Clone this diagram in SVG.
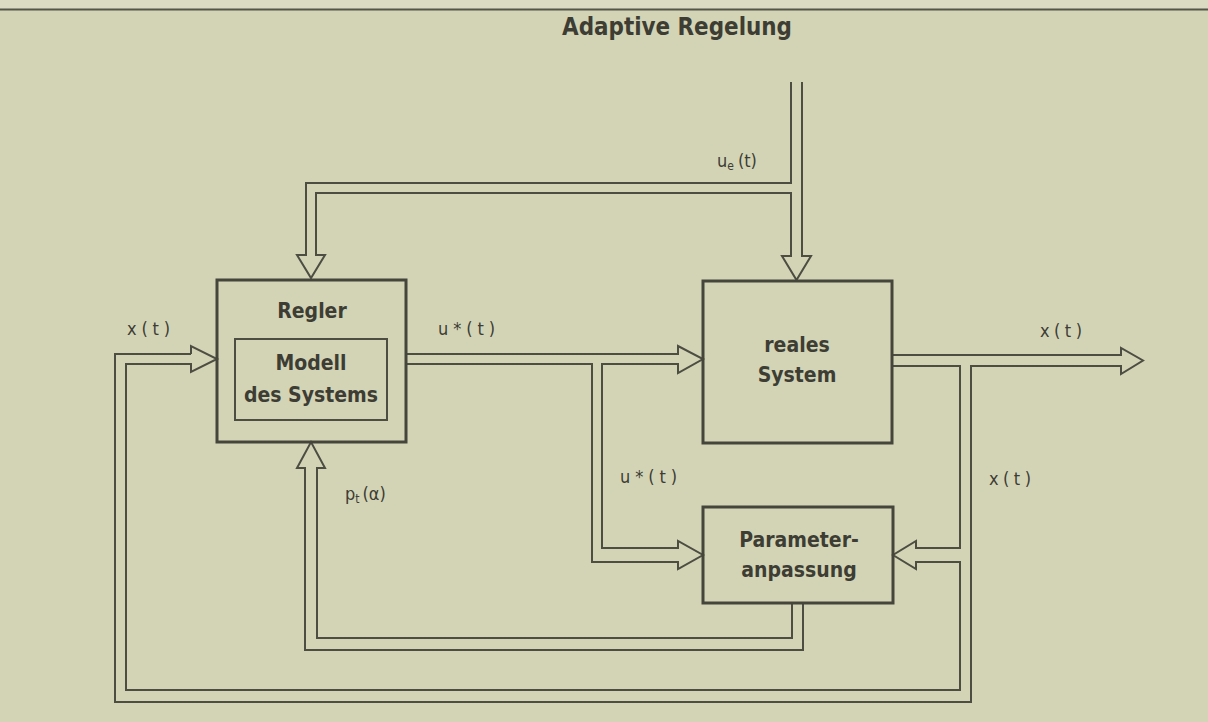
<svg xmlns="http://www.w3.org/2000/svg" width="1208" height="722" viewBox="0 0 1208 722">
<style>
.bg{fill:#d3d4b6}
.w{fill:none;stroke:#4d4d42;stroke-width:2;stroke-linejoin:miter}
.box{fill:none;stroke:#45453b;stroke-width:3}
.inner{fill:none;stroke:#4d4d42;stroke-width:2}
text{font-family:"Liberation Sans Narrow","DejaVu Sans Condensed","Liberation Sans",sans-serif;fill:#3d3d34}
.t{font-size:24px;font-weight:bold}
.n{font-size:21px;font-weight:bold}
.l{font-size:18px}
</style>
<rect class="bg" x="0" y="0" width="1208" height="722"/>
<rect x="0" y="0" width="1208" height="9" fill="#dadbc2"/>
<line x1="0" y1="9.5" x2="1208" y2="9.5" stroke="#55554a" stroke-width="2"/>
<text class="t" x="562" y="35" textLength="230" lengthAdjust="spacingAndGlyphs">Adaptive Regelung</text>

<g id="connectors">
<path class="w" d="M791,82 L791,183 L306,183 L306,255 L297,255 L311,278 L325,255 L316,255 L316,193 L791,193 L791,256 L782,256 L796.5,280 L811,256 L802,256 L802,82"/>
<path class="w" d="M191,354 L115,354 L115,702 L971,702 L971,366 L1121,366 L1121,374 L1143,360.5 L1121,348 L1121,355 L892,355"/>
<path class="w" d="M892,366 L960,366 L960,548 L916,548 L916,541 L893,555 L916,569 L916,562 L960,562 L960,690 L126,690 L126,364 L191,364 L191,372 L217,359 L191,346 L191,354"/>
<path class="w" d="M406,354 L678,354 L678,346 L703,359 L678,373 L678,364 L602,364 L602,548 L678,548 L678,541 L703,555 L678,569 L678,562 L592,562 L592,364 L406,364"/>
<path class="w" d="M792,603 L792,638 L317,638 L317,468 L325,468 L311,442 L297,468 L305,468 L305,650 L803,650 L803,603"/>
</g>

<g id="regler">
<rect class="box" x="217" y="280" width="189" height="162"/>
<text class="n" x="312" y="318" text-anchor="middle">Regler</text>
</g>
<g id="modell">
<rect class="inner" x="235" y="339" width="152" height="81"/>
<text class="n" x="311" y="370" text-anchor="middle">Modell</text>
<text class="n" x="311" y="402" text-anchor="middle">des Systems</text>
</g>
<g id="reales-system">
<rect class="box" x="703" y="281" width="189" height="162"/>
<text class="n" x="797" y="352" text-anchor="middle">reales</text>
<text class="n" x="797" y="382" text-anchor="middle">System</text>
</g>
<g id="parameteranpassung">
<rect class="box" x="703" y="507" width="190" height="96"/>
<text class="n" x="799" y="547" text-anchor="middle">Parameter-</text>
<text class="n" x="799" y="577" text-anchor="middle">anpassung</text>
</g>

<g id="labels">
<text class="l" x="127" y="335" textLength="43" lengthAdjust="spacing">x(t)</text>
<text class="l" x="438" y="335" textLength="57" lengthAdjust="spacing">u*(t)</text>
<text class="l" x="1040" y="337" textLength="42" lengthAdjust="spacing">x(t)</text>
<text class="l" x="717" y="167">u<tspan font-size="12" dy="3">e</tspan><tspan dy="-3" dx="4">(t)</tspan></text>
<text class="l" x="620" y="483" textLength="57" lengthAdjust="spacing">u*(t)</text>
<text class="l" x="989" y="485" textLength="42" lengthAdjust="spacing">x(t)</text>
<text class="l" x="345" y="500">p<tspan font-size="12" dy="3">t</tspan><tspan dy="-3" dx="3">(α)</tspan></text>
</g>
</svg>
